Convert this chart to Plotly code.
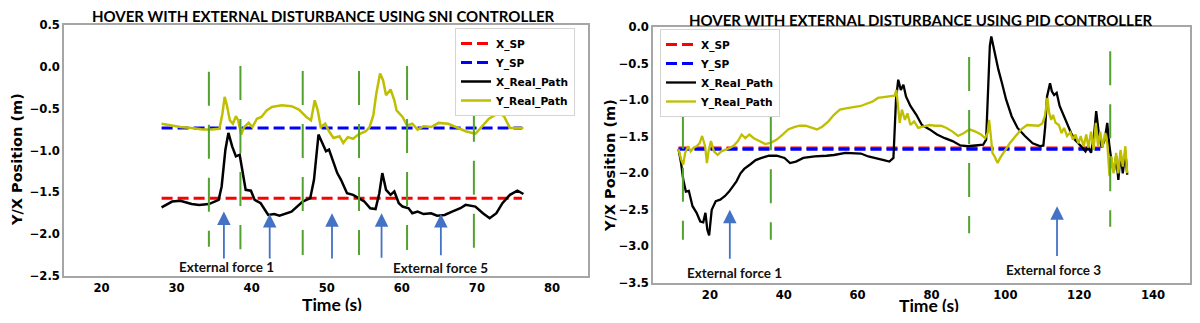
"""Hover con perturbación externa: controlador SNI vs PID."""
import plotly.graph_objects as go

# ---------------- panel izquierdo: SNI ----------------
SNI_T = [28.0, 29.4, 30.5, 32.0, 33.0, 34.3, 35.6, 36.0, 36.5, 36.9, 37.4, 37.9, 38.4, 38.7,
         39.2, 39.9, 40.4, 41.2, 42.2, 43.0, 43.7, 45.3, 46.8, 47.8, 48.3, 48.9, 49.4, 49.9,
         50.3, 50.9, 51.4, 51.9, 52.7, 53.5, 54.2, 55.0, 55.8, 56.5, 57.0, 57.4, 57.9, 58.5,
         59.0, 59.6, 60.1, 60.9, 61.4, 62.1, 62.9, 63.9, 64.7, 65.7, 66.7, 67.8, 68.5, 69.8,
         70.8, 71.7, 72.6, 73.4, 74.4, 75.4, 76.2]
SNI_X = [-1.68, -1.61, -1.60, -1.64, -1.65, -1.64, -1.59, -1.43, -0.99, -0.79, -0.95, -1.07,
         -1.05, -1.23, -1.47, -1.48, -1.59, -1.63, -1.77, -1.76, -1.78, -1.73, -1.61, -1.57,
         -1.35, -0.81, -0.91, -1.01, -0.99, -1.15, -1.27, -1.35, -1.51, -1.53, -1.57, -1.61,
         -1.69, -1.70, -1.51, -1.27, -1.47, -1.53, -1.49, -1.63, -1.67, -1.69, -1.75, -1.73,
         -1.76, -1.75, -1.78, -1.77, -1.73, -1.69, -1.65, -1.67, -1.75, -1.81, -1.75, -1.63,
         -1.53, -1.48, -1.52]
SNI_TY = [28.0, 29.4, 30.5, 32.0, 33.5, 34.6, 35.7, 36.1, 36.4, 36.7, 37.1, 37.5, 37.9, 38.2,
          38.6, 39.0, 39.6, 40.1, 40.7, 41.3, 42.0, 42.7, 44.0, 45.3, 46.3, 47.3, 47.9, 48.4,
          48.8, 49.2, 49.8, 50.3, 50.9, 51.7, 52.2, 52.8, 53.5, 54.2, 55.2, 55.7, 56.2, 56.6,
          57.1, 57.5, 57.9, 58.5, 59.0, 59.3, 60.1, 60.7, 61.4, 62.1, 62.9, 63.9, 64.9, 66.2,
          67.5, 68.5, 69.8, 70.5, 71.6, 72.9, 73.6, 74.4, 76.2]
SNI_Y = [-0.68, -0.70, -0.72, -0.73, -0.75, -0.75, -0.74, -0.56, -0.36, -0.46, -0.64, -0.68,
         -0.59, -0.64, -0.81, -0.72, -0.67, -0.72, -0.62, -0.60, -0.52, -0.48, -0.46, -0.47,
         -0.51, -0.60, -0.64, -0.40, -0.52, -0.72, -0.68, -0.77, -0.85, -0.83, -0.91, -0.84,
         -0.86, -0.81, -0.77, -0.72, -0.58, -0.32, -0.08, -0.16, -0.34, -0.27, -0.40, -0.52,
         -0.60, -0.70, -0.68, -0.75, -0.71, -0.72, -0.67, -0.68, -0.73, -0.77, -0.80, -0.73,
         -0.62, -0.55, -0.59, -0.73, -0.73]
SNI_SP_T = [28.0, 76.0]
SNI_X_SP = -1.57
SNI_Y_SP = -0.73
SNI_EVENT_T = [34.3, 38.5, 46.8, 54.3, 60.7, 69.6]
SNI_EVENT_TOP = [-0.06, 0.01, -0.05, -0.05, 0.01, -0.49]
SNI_EVENT_BOTTOM = [-2.15, -2.18, -2.25, -2.25, -2.19, -2.19]
SNI_FORCE_T = [36.3, 42.4, 50.7, 57.3, 65.2]
SNI_FORCE_TIP = [-1.73, -1.76, -1.75, -1.75, -1.76]
SNI_FORCE_BASE = [-2.31, -2.31, -2.31, -2.30, -2.27]
SNI_LABELS = [("External force 1", 36.7, -2.39), ("External force 5", 65.2, -2.40)]

# ---------------- panel derecho: PID ----------------
PID_T = [11.5, 12.2, 12.8, 13.5, 14.3, 15.3, 16.4, 17.4, 18.2, 18.8, 19.3, 19.8, 20.5, 21.6,
         22.8, 24.1, 25.2, 26.2, 27.2, 28.3, 29.3, 30.9, 32.4, 34.0, 36.0, 38.1, 40.2, 41.7,
         43.3, 45.3, 48.4, 51.6, 53.6, 56.7, 58.8, 60.9, 62.9, 65.0, 67.1, 68.6, 69.7, 70.4,
         71.0, 71.7, 72.4, 73.1, 74.3, 75.9, 77.4, 79.5, 81.5, 83.6, 85.7, 87.8, 89.8, 91.9,
         94.0, 94.8, 95.2, 95.8, 96.2, 96.9, 98.1, 99.1, 100.2, 101.7, 103.3, 105.3, 107.4,
         109.5, 110.3, 110.8, 111.3, 112.1, 112.6, 113.2, 113.9, 114.7, 115.7, 116.7, 117.8,
         118.8, 119.8, 120.9, 121.7, 122.4, 123.2, 124.0, 124.6, 125.3, 126.1, 126.9, 127.6,
         128.1, 128.8, 129.4, 130.0, 130.6, 131.2, 131.8, 132.5, 133.0]
PID_X = [-1.67, -1.86, -2.09, -2.25, -2.24, -2.45, -2.54, -2.66, -2.67, -2.54, -2.77, -2.85,
         -2.50, -2.38, -2.36, -2.31, -2.25, -2.18, -2.11, -2.00, -1.94, -1.88, -1.82, -1.79,
         -1.76, -1.76, -1.79, -1.86, -1.84, -1.79, -1.77, -1.76, -1.75, -1.72, -1.73, -1.73,
         -1.77, -1.80, -1.82, -1.84, -1.79, -0.99, -0.72, -0.86, -0.79, -0.95, -1.08, -1.20,
         -1.34, -1.40, -1.47, -1.52, -1.56, -1.62, -1.63, -1.62, -1.61, -1.54, -0.99, -0.26,
         -0.13, -0.31, -0.58, -0.77, -0.99, -1.22, -1.38, -1.49, -1.59, -1.63, -1.62, -1.36,
         -0.95, -0.77, -0.88, -0.93, -0.90, -1.08, -1.20, -1.34, -1.45, -1.54, -1.59, -1.65,
         -1.70, -1.63, -1.72, -1.49, -1.15, -1.45, -1.65, -1.54, -1.31, -1.59, -1.86, -1.97,
         -1.77, -2.09, -1.72, -2.00, -1.70, -2.02]
PID_TY = [11.5, 12.2, 12.8, 13.3, 14.1, 14.8, 15.6, 16.4, 17.2, 17.9, 18.7, 19.2, 19.7, 20.3,
          21.1, 22.1, 23.1, 24.1, 25.5, 26.5, 27.6, 28.6, 29.6, 30.7, 31.9, 33.4, 35.0, 36.6,
          38.1, 39.7, 41.2, 42.8, 44.3, 45.9, 47.4, 49.0, 50.5, 52.1, 53.6, 55.2, 57.2, 59.3,
          60.9, 62.4, 64.0, 65.5, 67.1, 68.6, 70.0, 70.5, 71.0, 71.4, 72.0, 72.8, 73.5, 74.3,
          75.3, 76.4, 77.9, 79.5, 81.0, 82.6, 84.1, 85.7, 87.2, 88.8, 90.3, 91.9, 93.4, 94.5,
          95.2, 95.6, 96.0, 96.5, 97.1, 97.9, 98.6, 99.7, 101.2, 102.8, 104.3, 105.9, 107.4,
          109.0, 110.0, 110.7, 111.4, 111.9, 112.4, 112.9, 113.6, 114.5, 115.2, 115.9, 116.7,
          117.6, 118.3, 119.0, 119.8, 120.4, 121.2, 121.9, 122.5, 123.2, 123.9, 124.5, 125.1,
          125.7, 126.3, 127.0, 127.6, 128.2, 128.7, 129.3, 130.0, 130.6, 131.2, 131.8, 132.5,
          133.0]
PID_Y = [-1.67, -1.81, -1.88, -1.72, -1.63, -1.70, -1.65, -1.63, -1.59, -1.49, -1.63, -1.86,
         -1.68, -1.56, -1.70, -1.75, -1.70, -1.68, -1.65, -1.62, -1.56, -1.47, -1.52, -1.47,
         -1.52, -1.56, -1.60, -1.58, -1.54, -1.47, -1.40, -1.37, -1.35, -1.35, -1.37, -1.40,
         -1.36, -1.29, -1.20, -1.13, -1.11, -1.09, -1.08, -1.05, -1.02, -0.97, -0.96, -0.95,
         -0.94, -0.86, -1.18, -1.31, -1.13, -1.27, -1.18, -1.34, -1.29, -1.38, -1.36, -1.34,
         -1.35, -1.35, -1.38, -1.43, -1.49, -1.45, -1.40, -1.43, -1.47, -1.52, -1.45, -1.27,
         -1.45, -1.72, -1.77, -1.86, -1.79, -1.70, -1.59, -1.49, -1.40, -1.34, -1.34, -1.35,
         -1.32, -1.22, -0.97, -1.18, -1.27, -1.20, -1.31, -1.34, -1.45, -1.38, -1.49, -1.44,
         -1.54, -1.47, -1.59, -1.49, -1.63, -1.47, -1.65, -1.43, -1.68, -1.31, -1.63, -1.43,
         -1.65, -1.45, -1.59, -2.04, -1.77, -2.00, -1.72, -2.00, -1.68, -1.91, -1.63, -2.00]
PID_SP_T = [11.5, 125.7]
PID_X_SP = -1.655
PID_Y_SP = -1.67
PID_EVENT_T = [12.7, 36.5, 90.2, 128.4]
PID_EVENT_TOP = [-1.20, -1.22, -0.41, -0.33]
PID_EVENT_BOTTOM = [-2.91, -2.91, -2.82, -2.73]
PID_FORCE_T = [25.4, 114.0]
PID_FORCE_TIP = [-2.50, -2.45]
PID_FORCE_BASE = [-3.19, -3.15]
PID_LABELS = [("External force 1", 26.8, -3.36), ("External force 3", 113.0, -3.32)]

RED, BLUE, BLACK, OLIVE = "#ff0000", "#0000ff", "#000000", "#bfbf00"
GREEN, ARROW = "#52a22f", "#4472c4"
TXT = "Lato"
MPL = "DejaVu Sans"

# la página añade 8px de margen al body: la figura cabe justa en la ventana
W, H = 1184, 307


def px(x):
    return (x - 8) / W


def py(y):
    return 1 - (y - 8) / H


def add_panel(fig, sfx, legend, t, xs, ty, ys, sp_t, x_sp, y_sp,
              ev_t, ev_top, ev_bot, width):
    xa, ya = "x" + sfx, "y" + sfx
    common = dict(xaxis=xa, yaxis=ya, legend=legend, hoverinfo="skip")
    fig.add_trace(go.Scatter(x=sp_t, y=[x_sp] * 2, mode="lines", name="X_SP",
                             line=dict(color=RED, width=3, dash="11px,5px"), **common))
    fig.add_trace(go.Scatter(x=sp_t, y=[y_sp] * 2, mode="lines", name="Y_SP",
                             line=dict(color=BLUE, width=3, dash="11px,5px"), **common))
    fig.add_trace(go.Scatter(x=t, y=xs, mode="lines", name="X_Real_Path",
                             line=dict(color=BLACK, width=width), **common))
    fig.add_trace(go.Scatter(x=ty, y=ys, mode="lines", name="Y_Real_Path",
                             line=dict(color=OLIVE, width=width), **common))
    vx, vy = [], []
    for tt, top, bot in zip(ev_t, ev_top, ev_bot):
        vx += [tt, tt, None]
        vy += [top, bot, None]
    fig.add_trace(go.Scatter(x=vx, y=vy, mode="lines", showlegend=False,
                             line=dict(color=GREEN, width=2, dash="34px,19px"),
                             xaxis=xa, yaxis=ya, hoverinfo="skip"))


def add_forces(fig, sfx, f_t, tip, base, labels):
    xa, ya = "x" + sfx, "y" + sfx
    for tt, y1, y0 in zip(f_t, tip, base):
        fig.add_annotation(x=tt, y=y1, ax=tt, ay=y0, xref=xa, yref=ya, axref=xa, ayref=ya,
                           text="", showarrow=True, arrowhead=2, arrowsize=1.5,
                           arrowwidth=1.8, arrowcolor=ARROW)
    for txt, tx, tyy in labels:
        fig.add_annotation(x=tx, y=tyy, xref=xa, yref=ya, text=txt, showarrow=False,
                           xanchor="center", yanchor="middle",
                           font=dict(family=TXT, size=13.5, color="#111", weight="bold"))


fig = go.Figure()
add_panel(fig, "", "legend", SNI_T, SNI_X, SNI_TY, SNI_Y, SNI_SP_T, SNI_X_SP, SNI_Y_SP,
          SNI_EVENT_T, SNI_EVENT_TOP, SNI_EVENT_BOTTOM, 2.5)
add_panel(fig, "2", "legend2", PID_T, PID_X, PID_TY, PID_Y, PID_SP_T, PID_X_SP, PID_Y_SP,
          PID_EVENT_T, PID_EVENT_TOP, PID_EVENT_BOTTOM, 2.3)
add_forces(fig, "", SNI_FORCE_T, SNI_FORCE_TIP, SNI_FORCE_BASE, SNI_LABELS)
add_forces(fig, "2", PID_FORCE_T, PID_FORCE_TIP, PID_FORCE_BASE, PID_LABELS)

axis_style = dict(showline=True, mirror=True, linecolor="#a6a6a6", linewidth=1.5,
                  showgrid=False, zeroline=False, ticks="", automargin=False,
                  tickfont=dict(family=MPL, size=11.6, color="#000", weight="bold"))
leg_style = dict(bgcolor="white", bordercolor="#d4d4d4", borderwidth=1,
                 font=dict(family=MPL, size=10.6, color="#000", weight="bold"),
                 xanchor="left", yanchor="top", tracegroupgap=0)

fig.update_layout(
    width=W, height=H, margin=dict(l=0, r=0, t=0, b=0),
    paper_bgcolor="white", plot_bgcolor="white",
    xaxis=dict(domain=[px(64), px(588)], range=[15, 84.8],
               tickvals=[20, 30, 40, 50, 60, 70, 80], anchor="y", **axis_style),
    yaxis=dict(domain=[py(276), py(25)], range=[-2.5, 0.5], dtick=0.5, tickformat=".1f",
               anchor="x", **axis_style),
    xaxis2=dict(domain=[px(653), px(1190)], range=[4.6, 150],
                tickvals=[20, 40, 60, 80, 100, 120, 140], anchor="y2", **axis_style),
    yaxis2=dict(domain=[py(283), py(27)], range=[-3.5, 0], dtick=0.5, tickformat=".1f",
                anchor="x2", **axis_style),
    legend=dict(x=px(455), y=py(28), **leg_style),
    legend2=dict(x=px(660), y=py(29), **leg_style),
)

titles = [
    ("HOVER WITH EXTERNAL DISTURBANCE USING SNI CONTROLLER", 323.5, 16),
    ("HOVER WITH EXTERNAL DISTURBANCE USING PID CONTROLLER", 921, 20),
]
for txt, x0, y0 in titles:
    fig.add_annotation(x=px(x0), y=py(y0), xref="paper", yref="paper", text=txt,
                       showarrow=False, xanchor="center", yanchor="middle", height=16,
                       font=dict(family=TXT, size=15, color="#000", weight="bold"))
for x0, y0 in ((332, 304), (929, 305)):
    fig.add_annotation(x=px(x0), y=py(y0), xref="paper", yref="paper", text="Time (s)",
                       showarrow=False, xanchor="center", yanchor="middle", height=14,
                       font=dict(family=TXT, size=17.5, color="#000", weight="bold"))
for x0, y0 in ((17, 160), (610, 166)):
    fig.add_annotation(x=px(x0), y=py(y0), xref="paper", yref="paper",
                       text="Y/X Position (m)", showarrow=False, textangle=-90,
                       xanchor="center", yanchor="middle",
                       font=dict(family=MPL, size=14.5, color="#000", weight="bold"))

fig.write_html("out.html")
